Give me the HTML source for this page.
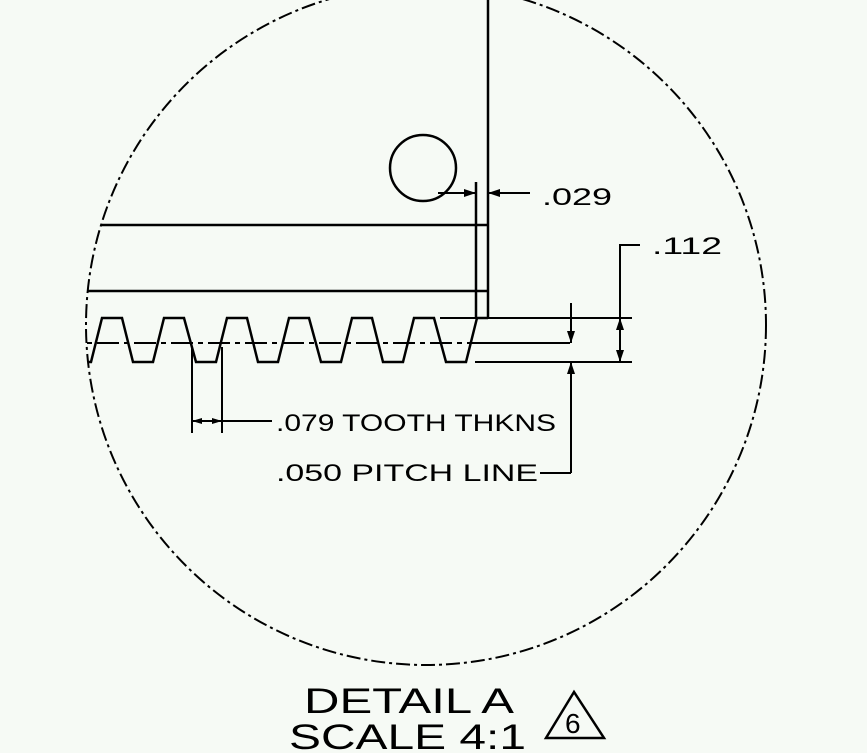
<!DOCTYPE html>
<html><head><style>
html,body{margin:0;padding:0;background:#f6faf5;}
svg{display:block;}
text{font-family:"Liberation Sans",sans-serif;fill:#000;}
</style></head><body>
<svg width="867" height="753" viewBox="0 0 867 753" xmlns="http://www.w3.org/2000/svg">
<rect width="867" height="753" fill="#f6faf5"/>
<defs><clipPath id="c"><circle cx="426" cy="325" r="340"/></clipPath></defs>
<circle cx="426" cy="325" r="340" fill="none" stroke="#000" stroke-width="2" stroke-dasharray="14,4,3,4"/>
<g stroke="#000" stroke-width="2.5" fill="none" clip-path="url(#c)">
<line x1="488" y1="0" x2="488" y2="318"/>
<line x1="476" y1="182" x2="476" y2="318"/>
<line x1="80" y1="225" x2="488" y2="225"/>
<line x1="80" y1="291" x2="488" y2="291"/>
<path d="M71,362 L91,362 L102,318 L122,318 L133,362 L153,362 L164,318 L184,318 L196,362 L216,362 L227,318 L247,318 L258,362 L278,362 L289,318 L309,318 L321,362 L341,362 L352,318 L372,318 L383,362 L403,362 L414,318 L434,318 L446,362 L466,362 L477,318 L488,318"/>
<line x1="60" y1="343" x2="488" y2="343" stroke-width="2" stroke-dasharray="22,5,5,5"/>
</g>
<circle cx="423" cy="168" r="33" fill="none" stroke="#000" stroke-width="2.5"/>
<g stroke="#000" stroke-width="2" fill="none">
<line x1="438" y1="193" x2="476" y2="193"/>
<line x1="488" y1="193" x2="530" y2="193"/>
<line x1="440" y1="318" x2="632" y2="318"/>
<line x1="488" y1="343" x2="570" y2="343"/>
<line x1="475" y1="362" x2="632" y2="362"/>
<line x1="571" y1="303" x2="571" y2="343"/>
<line x1="571" y1="362" x2="571" y2="473"/>
<line x1="540" y1="473" x2="571" y2="473"/>
<polyline points="640,245 620,245 620,362"/>
<line x1="192" y1="347" x2="192" y2="433"/>
<line x1="222" y1="347" x2="222" y2="433"/>
<line x1="192" y1="421" x2="272" y2="421"/>
</g>
<g fill="#000">
<polygon points="476,193 464,189 464,197"/>
<polygon points="488,193 500,189 500,197"/>
<polygon points="571,343 567,331 575,331"/>
<polygon points="571,362 567,374 575,374"/>
<polygon points="620,318 616,330 624,330"/>
<polygon points="620,362 616,350 624,350"/>
<polygon points="192,421 202,418 202,424"/>
<polygon points="222,421 212,418 212,424"/>
</g>
<g font-size="24">
<text x="542" y="205" textLength="70" lengthAdjust="spacingAndGlyphs">.029</text>
<text x="652" y="254" textLength="70" lengthAdjust="spacingAndGlyphs">.112</text>
<text x="276" y="431" textLength="280" lengthAdjust="spacingAndGlyphs">.079 TOOTH THKNS</text>
<text x="276" y="481" textLength="262" lengthAdjust="spacingAndGlyphs">.050 PITCH LINE</text>
</g>
<g font-size="35">
<text x="304" y="713" textLength="210" lengthAdjust="spacingAndGlyphs">DETAIL A</text>
<text x="289" y="749" textLength="237" lengthAdjust="spacingAndGlyphs">SCALE 4:1</text>
</g>
<polygon points="574,692 546,738 604,738" fill="none" stroke="#000" stroke-width="2.5"/>
<text x="565" y="733" font-size="28">6</text>
</svg>
</body></html>
